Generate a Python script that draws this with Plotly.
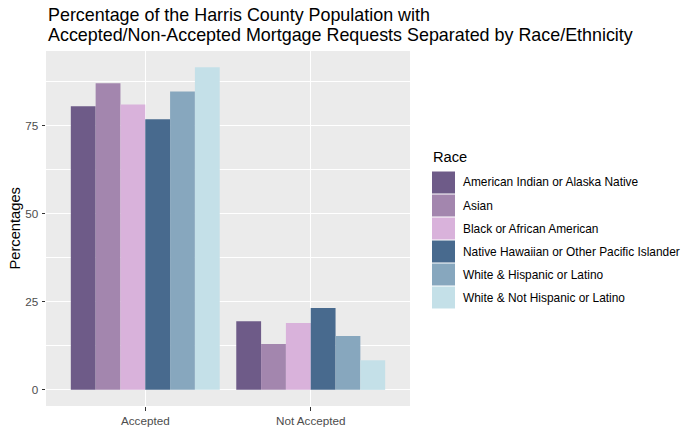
import plotly.graph_objects as go

categories = ["Accepted", "Not Accepted"]
races = [
    "American Indian or Alaska Native",
    "Asian",
    "Black or African American",
    "Native Hawaiian or Other Pacific Islander",
    "White & Hispanic or Latino",
    "White & Not Hispanic or Latino",
]
accepted = [80.5, 87.0, 81.0, 76.8, 84.7, 91.6]
not_accepted = [19.5, 13.0, 19.0, 23.2, 15.3, 8.4]
colors = ["#6E5B88", "#A386AE", "#D9B2DB", "#486A8E", "#87A7BE", "#C4E0E8"]
ytick_vals = [0, 25, 50, 75]

W, H = 700, 432
L, R, T, B = 46, 290, 51, 26
PW, PH = W - L - R, H - T - B
FONT = "Liberation Sans, Arial, sans-serif"

fig = go.Figure()
for i, race in enumerate(races):
    fig.add_trace(go.Bar(
        x=categories, y=[accepted[i], not_accepted[i]], name=race,
        marker=dict(color=colors[i], line=dict(width=0)), showlegend=False,
    ))

ymax = max(accepted + not_accepted)
pad = 0.05 * ymax

def px_x(px):
    return (px - L) / PW

def px_y(py):
    return 1 - (py - T) / PH

annotations = [
    dict(text="Percentage of the Harris County Population with", xref="paper", yref="paper",
         x=0, y=px_y(15.5), xanchor="left", yanchor="middle", showarrow=False,
         font=dict(family=FONT, size=17.9, color="black")),
    dict(text="Accepted/Non-Accepted Mortgage Requests Separated by Race/Ethnicity", xref="paper", yref="paper",
         x=0, y=px_y(35), xanchor="left", yanchor="middle", showarrow=False,
         font=dict(family=FONT, size=17.9, color="black")),
    dict(text="Percentages", xref="paper", yref="paper", x=px_x(14), y=px_y(228.5),
         xanchor="center", yanchor="middle", textangle=-90, showarrow=False,
         font=dict(family=FONT, size=14.7, color="black")),
    dict(text="Race", xref="paper", yref="paper", x=px_x(431), y=px_y(157),
         xanchor="left", yanchor="middle", showarrow=False,
         font=dict(family=FONT, size=14.7, color="black")),
]
shapes = []
key_top = 171
key_h = 23
for i, race in enumerate(races):
    y0 = key_top + i * key_h
    shapes.append(dict(type="rect", xref="paper", yref="paper",
                       x0=px_x(432), x1=px_x(455), y0=px_y(y0 + 0.5), y1=px_y(y0 + key_h - 0.5),
                       fillcolor=colors[i], line=dict(width=0)))
    annotations.append(dict(text=race, xref="paper", yref="paper", x=px_x(461), y=px_y(y0 + key_h / 2),
                            xanchor="left", yanchor="middle", showarrow=False,
                            font=dict(family=FONT, size=11.9, color="black")))

fig.update_layout(
    width=W, height=H, margin=dict(l=L, r=R, t=T, b=B, pad=0, autoexpand=False),
    paper_bgcolor="white", plot_bgcolor="#EBEBEB",
    barmode="group", bargap=0.1, bargroupgap=0,
    font=dict(family=FONT, color="#4D4D4D"),
    showlegend=False,
    annotations=annotations, shapes=shapes,
    xaxis=dict(type="category", range=[-0.6, 1.6], showgrid=True, gridcolor="white", gridwidth=1.1,
               ticks="outside", ticklen=3.5, tickcolor="#333333", tickwidth=1.1, automargin=False,
               tickfont=dict(family=FONT, size=11.7, color="#4D4D4D"), zeroline=False, showline=False),
    yaxis=dict(range=[-pad, ymax + pad], tickvals=ytick_vals, showgrid=True, gridcolor="white", gridwidth=1.1,
               ticks="outside", ticklen=3.5, tickcolor="#333333", tickwidth=1.1, automargin=False,
               ticklabelstandoff=1,
               tickfont=dict(family=FONT, size=11.7, color="#4D4D4D"), zeroline=False, showline=False,
               minor=dict(tickvals=[12.5, 37.5, 62.5, 87.5], showgrid=True, gridcolor="white", gridwidth=0.6, ticks="")),
)

fig.write_html("out.html")
